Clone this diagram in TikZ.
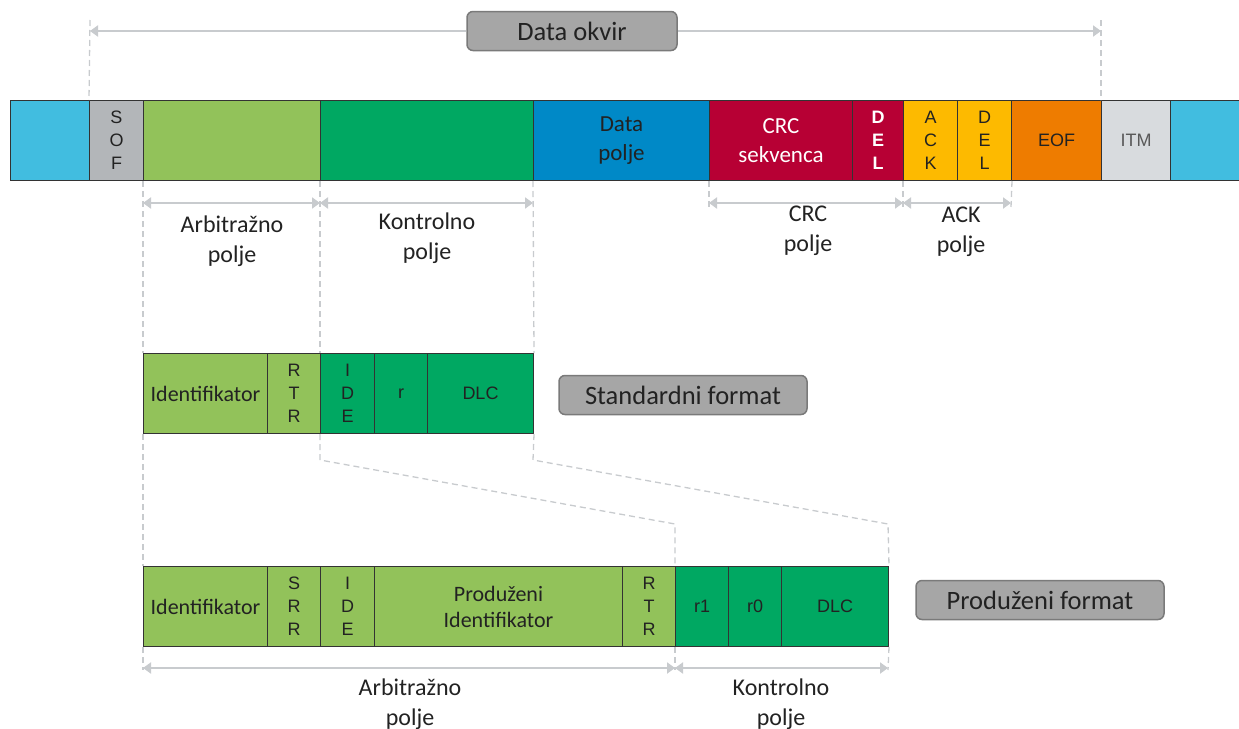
\documentclass[tikz,border=0pt]{standalone}
\usepackage{fontspec}
\setmainfont{Carlito}
\newfontfamily\cel{Liberation Sans}
\usetikzlibrary{arrows.meta}
\definecolor{cyanc}{HTML}{41BDE0}
\definecolor{sofc}{HTML}{B3B6B9}
\definecolor{lgreen}{HTML}{92C25A}
\definecolor{dgreen}{HTML}{00A862}
\definecolor{bluec}{HTML}{0089C7}
\definecolor{crimc}{HTML}{B70034}
\definecolor{yelc}{HTML}{FDBA00}
\definecolor{orac}{HTML}{EE7C00}
\definecolor{itmc}{HTML}{D8DBDE}
\definecolor{celline}{HTML}{333333}
\definecolor{dashc}{HTML}{C8CBCE}
\definecolor{dimc}{HTML}{C8CBCE}
\definecolor{tagfill}{HTML}{A6A6A6}
\definecolor{tagline}{HTML}{7A7A7A}
\definecolor{txt}{HTML}{222222}
\tikzset{
  cell/.style={draw=celline, line width=1pt, anchor=north west, inner sep=0pt,
    minimum height=80pt, align=center, text=txt},
  fc/.style={font=\fontsize{22}{29}\selectfont},
  fb/.style={font=\fontsize{23}{29}\selectfont},
  fl/.style={font=\cel\fontsize{18}{23}\selectfont},
  dashln/.style={draw=dashc, line width=1.3pt, dash pattern=on 6pt off 4pt},
  dim/.style={draw=dimc, line width=2pt,
    {Triangle[length=8pt,width=11pt]}-{Triangle[length=8pt,width=11pt]}},
  arr/.style={draw=dimc, line width=2pt, -{Triangle[length=8pt,width=11pt]}},
  lbl/.style={font=\fontsize{24}{29.5}\selectfont, align=center, text=txt},
  tag/.style={draw=tagline, fill=tagfill, rounded corners=6pt, line width=1.5pt,
    inner sep=0pt, minimum height=39pt, text=txt, font=\fontsize{26.5}{30}\selectfont}
}
\begin{document}
\begin{tikzpicture}[x=1pt,y=-1pt]
\useasboundingbox (0,0) rectangle (1239,728);
% top bar
\node[cell, fill=cyanc, minimum width=79pt] (c1) at (10,100) {};
\node[cell, fill=sofc, minimum width=54pt, fl] (sof) at (89,100) {S\\O\\F};
\node[cell, fill=lgreen, minimum width=177pt] (arb) at (143,100) {};
\node[cell, fill=dgreen, minimum width=213pt] (ctl) at (320,100) {};
\node[cell, fill=bluec, minimum width=176pt, fb] (dat) at (533,100) {Data\\polje};
\node[cell, fill=crimc, minimum width=143pt, fb, text=white] (crc) at (709,100) {CRC\\sekvenca};
\node[cell, fill=crimc, minimum width=51pt, text=white, font=\cel\bfseries\fontsize{18}{23}\selectfont] (del1) at (852,100) {D\\E\\L};
\node[cell, fill=yelc, minimum width=54pt, fl] (ack) at (903,100) {A\\C\\K};
\node[cell, fill=yelc, minimum width=54pt, fl] (del2) at (957,100) {D\\E\\L};
\node[cell, fill=orac, minimum width=90pt, fl] (eof) at (1011,100) {EOF};
\node[cell, fill=itmc, minimum width=69pt, fl, text=black!65] (itm) at (1101,100) {ITM};
\node[cell, fill=cyanc, minimum width=69pt] (c2) at (1170,100) {};

% data okvir
\node[tag, minimum width=210pt] (okvir) at (572,31) {Data okvir};
\coordinate (okL) at (90,31);
\coordinate (okR) at (1101,31);
\coordinate (okLt) at (90,20);
\coordinate (okRt) at (1101,20);
\draw[arr] (okvir.west) -- (okL);
\draw[arr] (okvir.east) -- (okR);
\draw[dashln] (okLt) -- (sof.north west);
\draw[dashln] (okRt) -- (itm.north west);

% standard row
\node[cell, fill=lgreen, minimum width=124pt, fc] (sid) at (143,353) {Identifikator};
\node[cell, fill=lgreen, minimum width=53pt, fl] (srtr) at (267,353) {R\\T\\R};
\node[cell, fill=dgreen, minimum width=54pt, fl] (side) at (320,353) {I\\D\\E};
\node[cell, fill=dgreen, minimum width=53pt, fl] (sr) at (374,353) {r};
\node[cell, fill=dgreen, minimum width=106pt, fl] (sdlc) at (427,353) {DLC};
\node[tag, minimum width=248pt] (stdf) at (683,395) {Standardni format};

% extended row
\node[cell, fill=lgreen, minimum width=124pt, fc] (eid) at (143,566) {Identifikator};
\node[cell, fill=lgreen, minimum width=53pt, fl] (esrr) at (267,566) {S\\R\\R};
\node[cell, fill=lgreen, minimum width=54pt, fl] (eide) at (320,566) {I\\D\\E};
\node[cell, fill=lgreen, minimum width=248pt, font=\fontsize{22}{26}\selectfont] (epid) at (374,566) {Produženi\\Identifikator};
\node[cell, fill=lgreen, minimum width=53pt, fl] (ertr) at (622,566) {R\\T\\R};
\node[cell, fill=dgreen, minimum width=53pt, fl] (er1) at (675,566) {r1};
\node[cell, fill=dgreen, minimum width=53pt, fl] (er0) at (728,566) {r0};
\node[cell, fill=dgreen, minimum width=107pt, fl] (edlc) at (781,566) {DLC};
\node[tag, minimum width=248pt] (extf) at (1040,600) {Produženi format};

% dashed guides from top bar
\draw[dashln] (arb.south west) -- (sid.north west);
\draw[dashln] (sid.south west) -- (eid.north west);
\draw[dashln] (ctl.south west) -- (side.north west);
\draw[dashln] (dat.south west) -- (sdlc.north east);
\coordinate (k1) at (320,460);
\coordinate (k2) at (675,524);
\coordinate (k3) at (533,460);
\coordinate (k4) at (888,524);
\draw[dashln] (side.south west) -- (k1) -- (k2) -- (er1.north west);
\draw[dashln] (sdlc.south east) -- (k3) -- (k4) -- (edlc.north east);
\coordinate (t1) at (709,207);
\coordinate (t2) at (903,207);
\coordinate (t3) at (1011,207);
\draw[dashln] (crc.south west) -- (t1);
\draw[dashln] (ack.south west) -- (t2);
\draw[dashln] (del2.south east) -- (t3);

% dimension arrows top
\coordinate (d1) at (143,203);
\coordinate (d2) at (320,203);
\coordinate (d3) at (533,203);
\coordinate (d4) at (709,203);
\coordinate (d5) at (903,203);
\coordinate (d6) at (1011,203);
\draw[dim] (d1) -- (d2);
\draw[dim] (d2) -- (d3);
\draw[dim] (d4) -- (d5);
\draw[dim] (d5) -- (d6);
\node[lbl] (l1) at (232,241) {Arbitražno\\polje};
\node[lbl] (l2) at (427,238) {Kontrolno\\polje};
\node[lbl] (l3) at (808,231) {CRC\\polje};
\node[lbl] (l4) at (961,232) {ACK\\polje};

% bottom dims
\coordinate (b1) at (143,670);
\coordinate (b2) at (675,670);
\coordinate (b3) at (888,670);
\draw[dashln] (eid.south west) -- (b1);
\draw[dashln] (er1.south west) -- (b2);
\draw[dashln] (edlc.south east) -- (b3);
\coordinate (e1) at (143,668);
\coordinate (e2) at (675,668);
\coordinate (e3) at (888,668);
\draw[dim] (e1) -- (e2);
\draw[dim] (e2) -- (e3);
\node[lbl] (l5) at (410,704) {Arbitražno\\polje};
\node[lbl] (l6) at (781,704) {Kontrolno\\polje};
\end{tikzpicture}
\end{document}
